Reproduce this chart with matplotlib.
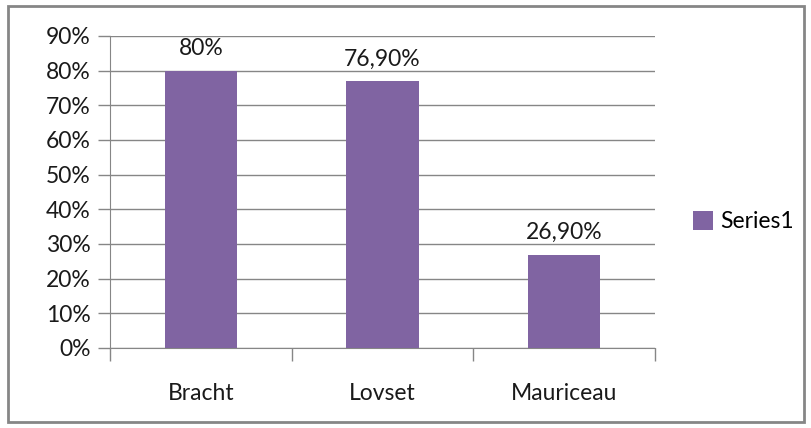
import numpy as np
import matplotlib.pyplot as plt
from matplotlib.patches import Rectangle

categories = ['Bracht', 'Lovset', 'Mauriceau']
values = [80, 76.9, 26.9]
value_labels = ['80%', '76,90%', '26,90%']
yticks = [0, 10, 20, 30, 40, 50, 60, 70, 80, 90]

plt.rcParams['font.family'] = ['Lato', 'DejaVu Sans']
purple = '#8064A2'
grey = '#868686'
fs = 16.5

fig = plt.figure(figsize=(8.12, 4.28), dpi=100)
ax = fig.add_axes([110 / 812, 1 - 348 / 428, 545 / 812, 312 / 428])

x = np.arange(len(categories))
bars = ax.bar(x, values, width=0.4, color=purple, zorder=3, label='Series1')

for xi, v, lab in zip(x, values, value_labels):
    ax.text(xi, v + 3.3, lab, ha='center', va='bottom', fontsize=fs, color='#1a1a1a')

ax.set_xlim(-0.5, len(categories) - 0.5)
ax.set_ylim(0, 90)
ax.set_yticks(yticks)
ax.set_yticklabels([f'{t}%' for t in yticks], fontsize=fs, color='#1a1a1a')
ax.yaxis.grid(True, color=grey, linewidth=1, zorder=0)

# category labels, with tick marks at category boundaries
ax.set_xticks(x)
ax.set_xticklabels(categories, fontsize=fs, color='#1a1a1a')
ax.tick_params(axis='x', length=0, pad=25)
ax.set_xticks(np.arange(-0.5, len(categories)), minor=True)
ax.tick_params(axis='x', which='minor', length=9, color=grey, width=1)
ax.tick_params(axis='y', length=9, color=grey, width=1, pad=5)

for side in ['top', 'right']:
    ax.spines[side].set_visible(False)
for side in ['left', 'bottom']:
    ax.spines[side].set_color(grey)

ax.legend(loc='center left', bbox_to_anchor=(1.07, 0.404), frameon=False,
          borderaxespad=0, borderpad=0,
          fontsize=fs, handlelength=0.85, handleheight=0.85, handletextpad=0.35)

fig.patches.append(Rectangle((8 / 812, 6 / 428), 796 / 812, 416 / 428,
                             transform=fig.transFigure, fill=False,
                             edgecolor=grey, linewidth=2))

fig.savefig('out.png', dpi=100)
